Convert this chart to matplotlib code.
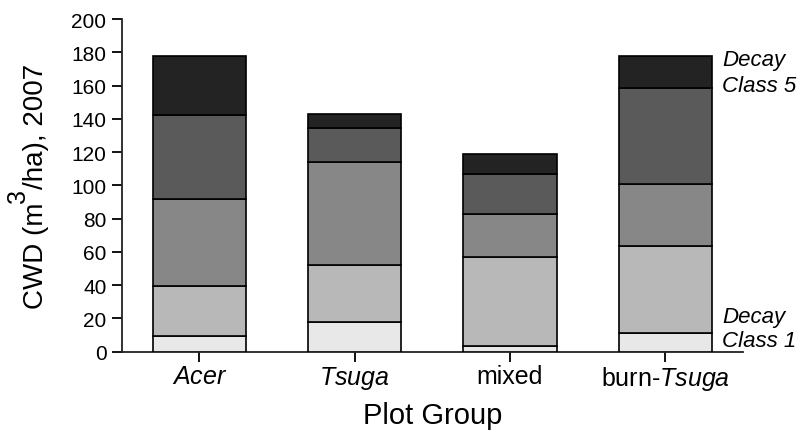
import numpy as np
import matplotlib
matplotlib.use("Agg")
import matplotlib.pyplot as plt

plt.rcParams["font.family"] = "Liberation Sans"
plt.rcParams["mathtext.fontset"] = "custom"
plt.rcParams["mathtext.rm"] = "Liberation Sans"
plt.rcParams["mathtext.it"] = "Liberation Sans:italic"

# plot groups
groups = ["Acer", "Tsuga", "mixed", "burn-Tsuga"]
tick_labels = [r"$\it{Acer}$", r"$\it{Tsuga}$", "mixed", r"burn-$\it{Tsuga}$"]

# CWD volume (m3/ha) per decay class
class1 = [9.6, 18.0, 3.3, 11.5]
class2 = [29.9, 34.3, 53.5, 52.2]
class3 = [52.1, 61.9, 26.0, 36.9]
class4 = [50.7, 20.1, 24.0, 58.1]
class5 = [35.7, 8.8, 12.1, 18.9]

decay_classes = [class1, class2, class3, class4, class5]
colors = ["#e8e8e8", "#b8b8b8", "#878787", "#5a5a5a", "#232323"]

W, H = 801, 431
fig = plt.figure(figsize=(W / 100, H / 100), dpi=100)
ax = fig.add_axes([121.7 / W, 1 - 352.7 / H, (743 - 121.7) / W, (352.7 - 20) / H])

x = np.arange(len(groups))
bottom = np.zeros(len(groups))
for vals, col in zip(decay_classes, colors):
    ax.bar(x, vals, width=0.6, bottom=bottom, color=col,
           edgecolor="black", linewidth=1.2, zorder=3)
    bottom += np.array(vals)

ax.set_xlim(-0.5, 3.5)
ax.set_ylim(0, 200)
ax.set_yticks(np.arange(0, 201, 20))
ax.set_xticks(x)
ax.set_xticklabels(tick_labels, fontsize=18)
ax.tick_params(axis="y", labelsize=15, length=7, width=1.3, direction="out", pad=4)
ax.tick_params(axis="x", length=7, width=1.3, direction="out", pad=2)

for side in ["top", "right"]:
    ax.spines[side].set_visible(False)
for side in ["left", "bottom"]:
    ax.spines[side].set_linewidth(1.3)
    ax.spines[side].set_color("#222222")

ax.set_xlabel("Plot Group", fontsize=21, labelpad=6)

# y label built in pieces so the superscript 3 stays full size
renderer = fig.canvas.get_renderer()
pieces = [("CWD (m", 20, 0), ("3", 18, 18), ("/ha), 2007", 20, 0)]
texts = []
for s, size, _ in pieces:
    t = fig.text(0, 0, s, fontsize=size, rotation=90, rotation_mode="anchor",
                 ha="left", va="baseline")
    texts.append(t)
lengths = [t.get_window_extent(renderer).height for t in texts]
base_x = 43
pos = 186.5 + sum(lengths) / 2  # pixel from top where the label starts
for t, (s, size, lift), L in zip(texts, pieces, lengths):
    t.set_position(((base_x - lift) / W, 1 - pos / H))
    pos -= L

# class labels beside the last bar
for label, yv in [("Decay", 172.3), ("Class 5", 156.7), ("Decay", 17.8), ("Class 1", 3.4)]:
    ax.text(3.365, yv, label, fontsize=16, style="italic",
            ha="left", va="baseline", clip_on=False)

fig.savefig("out.png", dpi=100)
